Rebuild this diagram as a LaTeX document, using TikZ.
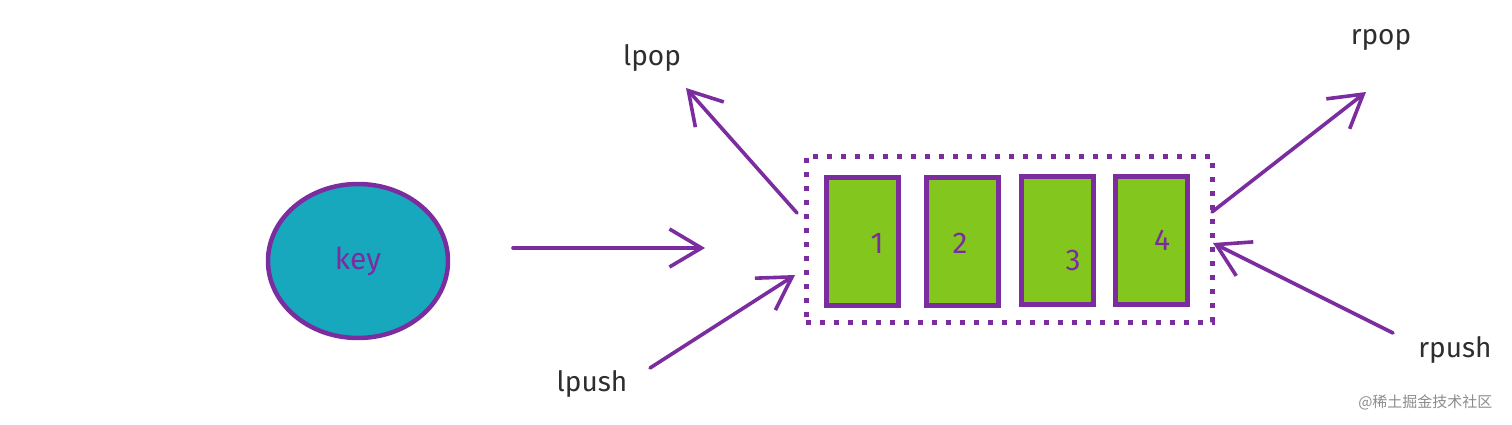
\documentclass[tikz,border=0pt]{standalone}
\usepackage{fontspec}
\setmainfont{Fira Sans}
\newfontfamily\cjk{Noto Sans CJK SC}
\usetikzlibrary{arrows.meta,shapes.geometric}
\definecolor{pur}{HTML}{7B2D9F}
\definecolor{teal}{HTML}{17A8BE}
\definecolor{grn}{HTML}{82C61E}
\definecolor{ink}{HTML}{2E2E2E}
\begin{document}
\begin{tikzpicture}[x=1pt,y=-1pt,
  conn/.style={draw=pur,line width=3.6pt,line cap=round,-{Straight Barb[length=32pt,width=38pt,line width=3.6pt]}},
  cell/.style={draw=pur,line width=5pt,fill=grn,minimum width=72pt,minimum height=128pt,inner sep=0pt},
  num/.style={text=pur,font=\fontsize{30}{30}\selectfont},
  lbl/.style={text=ink,font=\fontsize{28}{28}\selectfont}]
\useasboundingbox (0,0) rectangle (1512,425);
\fill[white] (0,0) rectangle (1512,425);
% key
\node[ellipse,draw=pur,line width=4.5pt,fill=teal,minimum width=180pt,minimum height=154pt,
  text=pur,font=\fontsize{30}{30}\selectfont] (key) at (358,261) {key};
% queue frame
\node[draw=pur,line width=5pt,dash pattern=on 5pt off 9pt,minimum width=406pt,minimum height=166pt,inner sep=0pt] (queue) at (1009,239) {};
% cells
\node[cell] (b1) at (862,241) {};
\node[cell] (b2) at (962,241) {};
\node[cell] (b3) at (1057,240) {};
\node[cell] (b4) at (1151,240) {};
\node[num] (n1) at (877,243) {1};
\node[num] (n2) at (960,243) {2};
\node[num] (n3) at (1073,260) {3};
\node[num] (n4) at (1162,240) {4};
% labels
\node[lbl] (lpop) at (652,58) {lpop};
\node[lbl] (lpush) at (592,384) {lpush};
\node[lbl] (rpop) at (1381,40) {rpop};
\node[lbl] (rpush) at (1455,350) {rpush};
% coordinates
\coordinate (ks) at (513,248);
\coordinate (ke) at (705,248);
\coordinate (lpopS) at (797,213);
\coordinate (lpopE) at (686,88);
\coordinate (lpushS) at (650,368);
\coordinate (lpushE) at (795,275);
\coordinate (rpopS) at (1212,212);
\coordinate (rpopE) at (1366,92);
\coordinate (rpushS) at (1393,333);
\coordinate (rpushE) at (1213,243);
\draw[conn] (ks) -- (ke);
\draw[conn] (lpopS) -- (lpopE);
\draw[conn] (lpushS) -- (lpushE);
\draw[conn] (rpopS) -- (rpopE);
\draw[conn] (rpushS) -- (rpushE);
% watermark
\node[text=black!45,font=\cjk\fontsize{15}{15}\selectfont,anchor=east] (wm) at (1496,402) {@稀土掘金技术社区};
\end{tikzpicture}
\end{document}
